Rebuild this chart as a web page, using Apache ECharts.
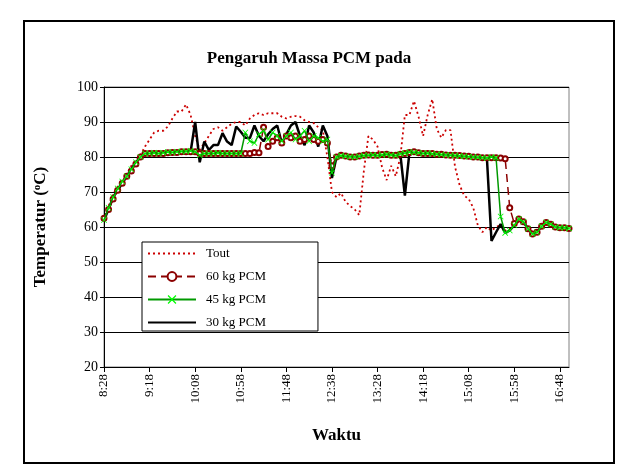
<!DOCTYPE html>
<html>
<head>
<meta charset="utf-8">
<script src="https://cdn.jsdelivr.net/npm/echarts@6/dist/echarts.min.js"></script>
<style>
  html, body { margin: 0; padding: 0; background: #fff; }
  #chart { width: 618px; height: 472px; }
</style>
</head>
<body>
<div id="chart"></div>
<script>
// time labels, every 5 minutes from 8:28 to 16:58
const times = [];
for (let m = 8 * 60 + 28; m <= 16 * 60 + 58; m += 5) {
  times.push(Math.floor(m / 60) + ':' + String(m % 60).padStart(2, '0'));
}

const tout = [
  62, 66, 69.5, 71.5, 73, 75, 77.5, 79, 80.5, 83,
  85, 87, 87.5, 87.5, 88.7, 91, 93, 93, 95, 92,
  86, 82, 84, 86, 88, 88.5, 87.5, 88.5, 89.5, 90,
  90, 89, 91, 92, 92.5, 92, 92.5, 92.5, 92.5, 91.5,
  91, 91.5, 91.7, 91.5, 90.5, 90, 89.7, 88.5, 87.7, 80,
  70, 68.5, 69.7, 67.2, 66, 65, 63.4, 76, 86, 85,
  83, 77, 73.4, 77.5, 74.5, 80, 92, 92, 96, 91.5,
  86, 92, 96.5, 88, 85.5, 87.7, 87.7, 77.2, 72, 69,
  68, 65.5, 60.5, 58.5, 60, 59, 60, 60.5, 59, 59.5,
  60.5, 61.5, 62, 60, 58.5, 59.5, 60.5, 61, 60.5, 60,
  59.5, 59.5, 59.5
];

const pcm60 = [
  62.5, 65, 68, 70.5, 72.5, 74.5, 76, 78, 80, 81,
  81, 81, 81, 81, 81.2, 81.3, 81.3, 81.5, 81.5, 81.5,
  81.5, 81, 81, 81, 81, 81, 81, 81, 81, 81,
  81, 81, 81, 81.3, 81.2, 88.5, 83, 84.5, 85.5, 84,
  86, 85.5, 86, 84.5, 85, 86, 85, 84.5, 85, 84,
  77.5, 80, 80.5, 80.3, 80, 80, 80.3, 80.5, 80.6, 80.5,
  80.5, 80.7, 80.8, 80.5, 80.5, 80.8, 81, 81.3, 81.5, 81.2,
  81, 81, 81, 80.8, 80.8, 80.6, 80.5, 80.5, 80.4, 80.3,
  80.2, 80, 80, 79.8, 79.8, 79.8, 79.8, 79.7, 79.5, 65.5,
  61, 62.3, 61.5, 59.5, 58, 58.5, 60.2, 61.3, 60.8, 60,
  59.8, 59.8, 59.6
];

const pcm45 = [
  62, 65.5, 68.5, 71, 73, 74.5, 76.5, 78.5, 80, 81,
  81, 81.2, 81, 81.2, 81.4, 81.3, 81.5, 81.6, 81.6, 81.8,
  81.5, 80.5, 81, 81, 81, 81.2, 81, 81, 81, 81,
  81, 87, 84.5, 84, 86.5, 87.5, 85, 87, 86, 84.5,
  86, 87, 85, 86, 87.5, 84.5, 86, 85.5, 84.5, 85,
  75.5, 80, 80.4, 80.2, 80.1, 80, 80.2, 80.4, 80.5, 80.6,
  80.4, 80.6, 80.8, 80.6, 80.4, 80.9, 81.1, 81.4, 81.3, 81.2,
  81, 81.1, 80.9, 80.8, 80.7, 80.6, 80.5, 80.4, 80.3, 80.2,
  80.1, 80, 79.9, 79.8, 79.7, 80, 79.8, 63, 58.3, 59,
  60.5, 62.3, 61.5, 59.5, 58, 58.5, 60.2, 61.3, 60.8, 60,
  59.8, 59.8, 59.6
];

const pcm30 = [
  62, 65, 68.5, 70.5, 72.5, 74.5, 76.5, 78.5, 80, 81,
  81, 81, 81, 81.2, 81.3, 81.5, 81.5, 81.5, 81.8, 81.5,
  90, 78.5, 84.4, 82, 83.4, 83.4, 86.8, 84.4, 83.4, 88.7,
  87.2, 85.5, 85.4, 89, 86, 84.5, 86.5, 88, 89, 84,
  86.5, 89, 90, 86, 83.4, 89, 87, 83, 89, 86,
  74, 80, 80.4, 80.2, 80, 80, 80.2, 80.4, 80.5, 80.5,
  80.5, 80.6, 80.7, 80.5, 80.4, 80.8, 69, 81.3, 81.4, 81.2,
  81, 81, 80.9, 80.8, 80.7, 80.6, 80.5, 80.4, 80.3, 80.2,
  80.1, 80, 79.9, 79.8, 79.5, 56, 58.5, 60.8, 58.3, 59,
  60.5, 62.3, 61.5, 59.5, 58, 58.5, 60.2, 61.3, 60.8, 60,
  59.8, 59.8, 59.6
];

const serif = 'Liberation Serif, Times New Roman, serif';
const crossPath = 'path://M0,1L1,0L5,4L9,0L10,1L6,5L10,9L9,10L5,6L1,10L0,9L4,5Z';
const noMark = { color: 'transparent', borderColor: 'transparent', borderWidth: 0 };

const chart = echarts.init(document.getElementById('chart'));

chart.setOption({
  animation: false,
  backgroundColor: '#fff',
  textStyle: { fontFamily: serif, color: '#000' },
  title: {
    text: 'Pengaruh Massa PCM pada',
    left: 'center',
    top: 45,
    textStyle: { fontFamily: serif, fontSize: 17, fontWeight: 'bold', color: '#000' }
  },
  graphic: [{
    type: 'rect',
    shape: { x: 24, y: 21, width: 590, height: 442 },
    style: { fill: 'none', stroke: '#000', lineWidth: 2 },
    silent: true
  }],
  legend: {
    data: [
      { name: 'Tout', itemStyle: noMark },
      { name: '60 kg PCM' },
      { name: '45 kg PCM' },
      { name: '30 kg PCM', itemStyle: noMark }
    ],
    orient: 'vertical',
    left: 142,
    top: 242,
    itemWidth: 48,
    itemHeight: 11,
    itemGap: 10,
    padding: [5, 52, 2, 5],
    backgroundColor: '#fff',
    borderColor: '#000',
    borderWidth: 1,
    textStyle: { fontFamily: serif, fontSize: 13, color: '#000', padding: [0, 0, 0, 5] }
  },
  grid: {
    left: 104,
    right: 49,
    top: 87,
    bottom: 105,
    show: true,
    borderColor: '#808080',
    borderWidth: 1
  },
  xAxis: {
    type: 'category',
    data: times,
    boundaryGap: false,
    name: 'Waktu',
    nameLocation: 'middle',
    nameGap: 60,
    nameTextStyle: { fontFamily: serif, fontSize: 17, fontWeight: 'bold', color: '#000' },
    axisLine: { lineStyle: { color: '#000', width: 1 } },
    axisTick: { interval: 9, length: 5, lineStyle: { color: '#000' } },
    axisLabel: { interval: 9, rotate: 90, fontFamily: serif, fontSize: 13, color: '#000', margin: 7 },
    splitLine: { show: false }
  },
  yAxis: {
    type: 'value',
    min: 20,
    max: 100,
    interval: 10,
    name: '{n|Temperatur (}{s|o}{n|C)}',
    nameLocation: 'middle',
    nameGap: 54,
    nameRotate: 90,
    nameTextStyle: {
      rich: {
        n: { fontFamily: serif, fontSize: 17, fontWeight: 'bold', color: '#000' },
        s: { fontFamily: serif, fontSize: 11, fontWeight: 'bold', color: '#000', verticalAlign: 'top', padding: [0, 0, 7, 0] }
      }
    },
    axisLine: { show: true, lineStyle: { color: '#000', width: 1 } },
    axisTick: { show: true, length: 4, lineStyle: { color: '#000' } },
    axisLabel: { fontFamily: serif, fontSize: 14, color: '#000', margin: 6 },
    splitLine: { show: true, lineStyle: { color: '#000', width: 1 } }
  },
  series: [
    {
      name: 'Tout',
      type: 'line',
      data: tout,
      symbol: 'none',
      z: 2,
      itemStyle: { color: '#cc0000' },
      lineStyle: { color: '#cc0000', width: 1.8, type: [2, 3] }
    },
    {
      name: '30 kg PCM',
      type: 'line',
      data: pcm30,
      symbol: 'none',
      z: 3,
      itemStyle: { color: '#000' },
      lineStyle: { color: '#000', width: 2.5 }
    },
    {
      name: '60 kg PCM',
      type: 'line',
      data: pcm60,
      symbol: 'emptyCircle',
      symbolSize: 5,
      showAllSymbol: true,
      z: 4,
      itemStyle: { color: '#8b0000', borderColor: '#8b0000', borderWidth: 1 },
      lineStyle: { color: '#8b0000', width: 1.5, type: [8, 5] }
    },
    {
      name: '45 kg PCM',
      type: 'line',
      data: pcm45,
      symbol: crossPath,
      symbolSize: 6,
      showAllSymbol: true,
      z: 5,
      itemStyle: { color: '#00ff00' },
      lineStyle: { color: '#009900', width: 1.5 }
    }
  ]
});
</script>
</body>
</html>
